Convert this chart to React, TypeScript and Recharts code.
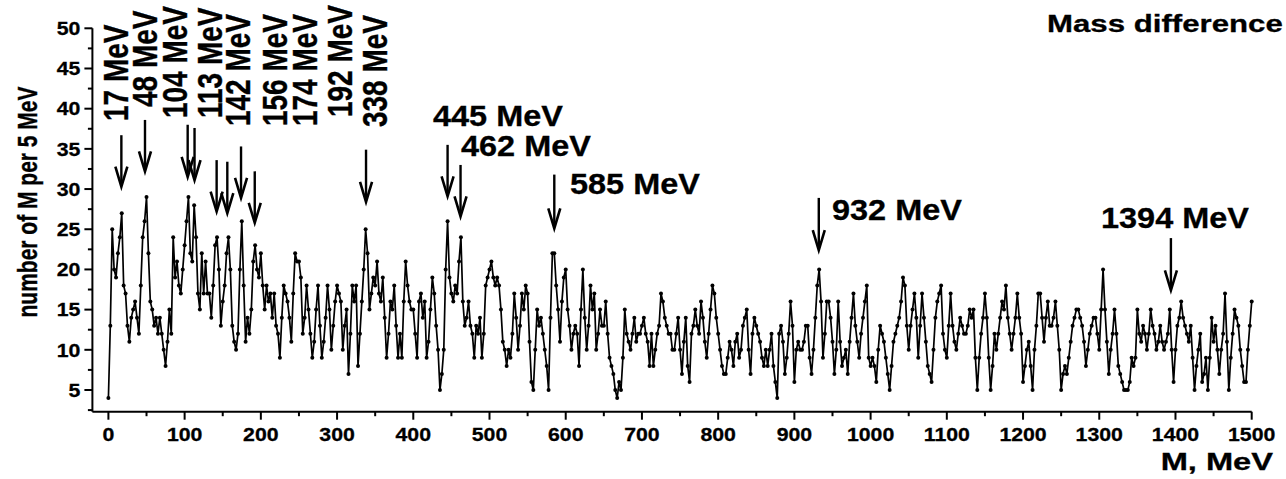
import React from 'react';
import { LineChart, Line, XAxis, YAxis, ReferenceLine } from 'recharts';

// counts per bin, every 2.5 MeV
const M_STEP = 2.5;

const COUNTS_0_245 = [
  4, 13, 25, 20, 19, 22, 24, 27, 18, 17, 13, 11, 14, 15, 16, 14, 12, 18, 24, 26,
  29, 22, 16, 15, 13, 14, 12, 14, 12, 10, 8, 11, 15, 12, 24, 19, 21, 18, 17, 20,
  23, 26, 29, 22, 21, 28, 24, 17, 15, 22, 17, 21, 17, 17, 14, 18, 23, 24, 20, 13,
  16, 18, 22, 24, 20, 13, 11, 10, 12, 20, 26, 18, 11, 14, 12, 15, 21, 23, 20, 19,
  22, 18, 15, 18, 16, 17, 14, 17, 13, 12, 9, 14, 18, 17, 16, 14, 11, 17, 22, 21,
];
const COUNTS_250_495 = [
  21, 19, 12, 14, 18, 15, 12, 9, 11, 15, 18, 13, 9, 11, 14, 18, 15, 10, 13, 16,
  18, 17, 16, 10, 13, 15, 7, 12, 18, 16, 18, 8, 12, 16, 20, 25, 22, 15, 17, 19,
  18, 21, 17, 16, 19, 14, 9, 12, 16, 15, 18, 13, 9, 12, 9, 16, 21, 18, 16, 15,
  15, 12, 9, 16, 17, 14, 16, 9, 11, 15, 19, 17, 13, 10, 5, 7, 10, 20, 26, 19,
  17, 16, 18, 17, 21, 24, 16, 13, 14, 16, 13, 12, 9, 13, 12, 14, 9, 12, 18, 19,
];
const COUNTS_500_745 = [
  20, 21, 19, 18, 19, 18, 15, 11, 10, 8, 10, 9, 12, 17, 14, 10, 13, 17, 15, 18,
  17, 11, 6, 5, 10, 15, 13, 14, 12, 10, 8, 5, 14, 22, 22, 18, 15, 11, 16, 19,
  20, 15, 13, 10, 12, 13, 12, 8, 15, 20, 14, 10, 13, 18, 15, 17, 10, 12, 15, 13,
  13, 16, 12, 9, 8, 7, 5, 4, 6, 5, 9, 15, 12, 11, 10, 12, 14, 11, 12, 12,
  13, 14, 12, 11, 8, 12, 8, 10, 12, 13, 17, 16, 14, 13, 12, 12, 10, 10, 12, 14,
];
const COUNTS_750_995 = [
  10, 7, 11, 14, 8, 6, 12, 13, 15, 13, 12, 16, 14, 11, 9, 12, 15, 18, 17, 14,
  12, 10, 8, 7, 7, 9, 11, 10, 8, 11, 12, 9, 10, 13, 14, 15, 10, 7, 12, 14,
  13, 12, 11, 9, 8, 10, 8, 10, 12, 8, 6, 4, 12, 13, 11, 7, 9, 12, 16, 13,
  6, 10, 11, 10, 10, 11, 13, 13, 9, 7, 10, 14, 18, 20, 16, 9, 12, 16, 16, 14,
  11, 7, 10, 16, 11, 8, 9, 10, 7, 11, 14, 17, 13, 11, 9, 12, 14, 16, 18, 9,
];
const COUNTS_1000_1245 = [
  8, 9, 8, 6, 10, 13, 12, 11, 9, 7, 5, 8, 11, 12, 13, 14, 16, 19, 18, 13,
  10, 13, 15, 17, 14, 9, 13, 17, 14, 11, 8, 7, 6, 10, 14, 16, 17, 18, 12, 10,
  9, 13, 17, 13, 11, 10, 12, 14, 13, 12, 12, 13, 15, 14, 15, 9, 5, 9, 12, 14,
  17, 14, 9, 5, 8, 12, 10, 12, 14, 16, 15, 18, 14, 12, 10, 12, 14, 17, 14, 12,
  6, 8, 10, 11, 8, 5, 10, 13, 17, 17, 14, 11, 14, 16, 13, 13, 14, 16, 13, 10,
];
const COUNTS_1250_1500 = [
  5, 7, 8, 7, 9, 11, 13, 14, 15, 15, 14, 13, 11, 8, 10, 12, 13, 14, 14, 12,
  10, 15, 20, 15, 11, 7, 10, 12, 15, 12, 8, 7, 6, 5, 5, 5, 6, 9, 8, 9,
  15, 12, 11, 13, 12, 10, 12, 15, 13, 12, 10, 11, 13, 11, 10, 11, 12, 15, 10, 6,
  10, 13, 14, 16, 14, 13, 12, 11, 13, 9, 5, 8, 10, 12, 6, 7, 9, 5, 9, 14,
  11, 13, 10, 7, 10, 12, 17, 11, 5, 9, 12, 15, 14, 13, 10, 8, 6, 6, 10, 13,
  16,
];

const X_TICKS = [
  0, 50, 100, 150, 200, 250, 300, 350, 400, 450, 500, 550, 600, 650, 700, 750,
  800, 850, 900, 950, 1000, 1050, 1100, 1150, 1200, 1250, 1300, 1350, 1400, 1450, 1500,
];
const Y_TICKS = [
  2.5, 5, 7.5, 10, 12.5, 15, 17.5, 20, 22.5, 25, 27.5, 30, 32.5, 35, 37.5, 40, 42.5, 45, 47.5, 50,
];

// marked peaks (MeV) and the arrow ends, in counts
const PEAKS = [17, 48, 104, 113, 142, 156, 174, 192, 338, 445, 462, 585, 932, 1394];
const ARROW_TOP = [36.7, 38.6, 38, 37.6, 33.6, 33.4, 35.3, 32.2, 34.9, 35.5, 33, 31.8, 28.9, 23.9];
const ARROW_TIP = [30.3, 32.2, 31.5, 31.1, 27.2, 27, 28.9, 25.8, 28.4, 29.1, 26.6, 25.1, 22.4, 17.4];

const W = 1286;
const H = 479;
const FONT = "'Liberation Sans', Arial, Helvetica, sans-serif";

const counts = [
  ...COUNTS_0_245,
  ...COUNTS_250_495,
  ...COUNTS_500_745,
  ...COUNTS_750_995,
  ...COUNTS_1000_1245,
  ...COUNTS_1250_1500,
];
const data = counts.map((v, i) => ({ m: i * M_STEP, v }));

// the source figure is stretched sideways, so text gets a horizontal scale
const SText = ({ x, y, size, sx, anchor = 'start', rotate = false, children }: any) => (
  <text
    transform={`translate(${x},${y}) scale(${sx},1)${rotate ? ' rotate(-90)' : ''}`}
    fontFamily={FONT}
    fontWeight={700}
    fontSize={size}
    textAnchor={anchor}
    fill="#000"
    stroke="#000"
    strokeWidth={0.3}
  >
    {children}
  </text>
);

const XTick = ({ x, y, payload }: any) => {
  const major = payload.value % 100 === 0;
  return (
    <g>
      <line x1={x} x2={x} y1={y} y2={y + (major ? 8 : 4.5)} stroke="#000" strokeWidth={2} />
      {major && (
        <SText x={x} y={y + 29} size={19} sx={1.12} anchor="middle">
          {payload.value}
        </SText>
      )}
    </g>
  );
};

const YTick = ({ x, y, payload }: any) => {
  const major = payload.value % 5 === 0;
  return (
    <g>
      <line x1={x - (major ? 8 : 4.5)} x2={x} y1={y} y2={y} stroke="#000" strokeWidth={2} />
      {major && (
        <SText x={x - 12} y={y + 6.8} size={19} sx={1.12} anchor="end">
          {payload.value}
        </SText>
      )}
    </g>
  );
};

const Arrow = (props: any) => {
  const { x1, y1, x2, y2 } = props;
  const tip = Math.max(y1, y2);
  const top = Math.min(y1, y2);
  const x = (x1 + x2) / 2;
  return (
    <g>
      <line x1={x} x2={x} y1={top} y2={tip - 2} stroke="#000" strokeWidth={2.4} />
      <path
        d={`M${x - 6},${tip - 20} L${x},${tip} L${x + 6},${tip - 20}`}
        fill="none"
        stroke="#000"
        strokeWidth={2.6}
      />
    </g>
  );
};

// rotated labels over the low-mass peaks: [text, baseline x, bottom y]
const VERTICAL_LABELS: [string, number, number][] = [
  ['17 MeV', 128, 121],
  ['48 MeV', 157, 107],
  ['104 MeV', 187, 118],
  ['113 MeV', 222, 118],
  ['142 MeV', 250, 126],
  ['156 MeV', 287, 126],
  ['174 MeV', 317, 126],
  ['192 MeV', 352, 117],
  ['338 MeV', 387, 127],
];
const FLAT_LABELS: [string, number, number][] = [
  ['445 MeV', 433, 126],
  ['462 MeV', 461, 156],
  ['585 MeV', 570, 194],
  ['932 MeV', 832, 220],
  ['1394 MeV', 1101, 228],
];

const App: React.FC = () => {
  return (
    <div style={{ position: 'absolute', left: 0, top: 0, width: W, height: H, background: '#fff' }}>
      <LineChart
        width={W}
        height={H}
        data={data}
        margin={{ top: 28.3, right: 34.3, bottom: 27.3, left: 32.4 }}
      >
        <XAxis
          dataKey="m"
          type="number"
          domain={[-21, 1500]}
          ticks={X_TICKS}
          interval={0}
          height={40}
          tickSize={0}
          tickMargin={0}
          tickLine={false}
          tick={<XTick />}
          axisLine={{ stroke: '#000', strokeWidth: 2 }}
        />
        <YAxis
          type="number"
          domain={[2.3, 50]}
          ticks={Y_TICKS}
          interval={0}
          width={60}
          tickSize={0}
          tickMargin={0}
          tickLine={false}
          tick={<YTick />}
          axisLine={{ stroke: '#000', strokeWidth: 2 }}
        />
        <Line
          type="linear"
          dataKey="v"
          stroke="#000"
          strokeWidth={1.7}
          dot={{ r: 2, fill: '#000', stroke: 'none' }}
          isAnimationActive={false}
        />
        {PEAKS.map((m, i) => (
          <ReferenceLine
            key={m}
            segment={[
              { x: m, y: ARROW_TOP[i] },
              { x: m, y: ARROW_TIP[i] },
            ]}
            ifOverflow="visible"
            shape={Arrow}
          />
        ))}
      </LineChart>
      <svg
        width={W}
        height={H}
        style={{ position: 'absolute', left: 0, top: 0, pointerEvents: 'none' }}
      >
        <SText x={37} y={202} size={21} sx={1.35} anchor="middle" rotate>
          number of M per 5 MeV
        </SText>
        <SText x={1273} y={470} size={24} sx={1.36} anchor="end">
          M, MeV
        </SText>
        <SText x={1047} y={32} size={24} sx={1.3}>
          Mass difference
        </SText>
        {VERTICAL_LABELS.map(([t, x, y]) => (
          <SText key={t} x={x} y={y} size={28} sx={1.24} rotate>
            {t}
          </SText>
        ))}
        {FLAT_LABELS.map(([t, x, y]) => (
          <SText key={t} x={x} y={y} size={29} sx={1.12}>
            {t}
          </SText>
        ))}
      </svg>
    </div>
  );
};

export default App;
